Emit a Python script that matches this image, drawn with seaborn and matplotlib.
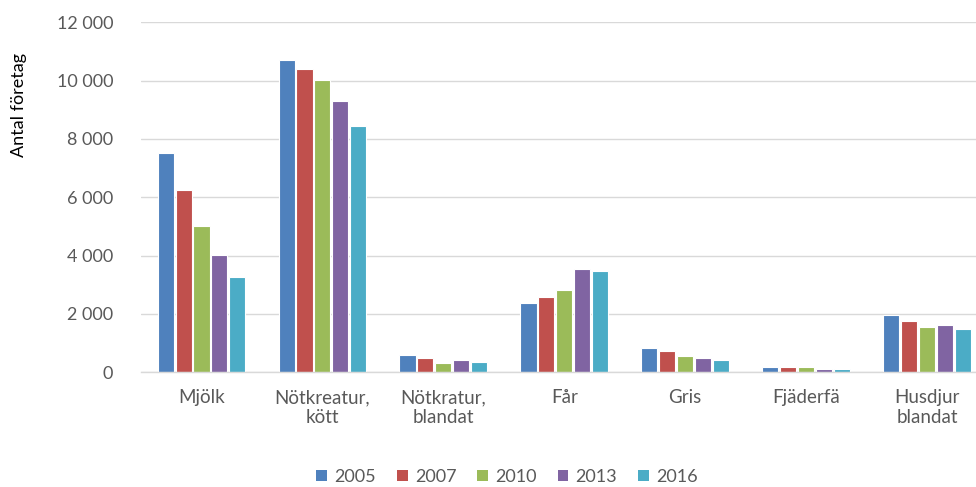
import matplotlib
matplotlib.use("Agg")
import matplotlib.pyplot as plt
import seaborn as sns
import pandas as pd
from matplotlib.ticker import FuncFormatter
from matplotlib.patches import Patch

categories = ["Mjölk", "Nötkreatur,\nkött", "Nötkratur,\nblandat", "Får", "Gris", "Fjäderfä", "Husdjur\nblandat"]
years = ["2005", "2007", "2010", "2013", "2016"]
v2005 = [7520, 10720, 594, 2366, 832, 173, 1965]
v2007 = [6250, 10410, 480, 2594, 728, 173, 1769]
v2010 = [5030, 10020, 320, 2823, 566, 170, 1538]
v2013 = [4020, 9290, 411, 3554, 486, 127, 1618]
v2016 = [3257, 8446, 366, 3486, 405, 127, 1491]
colors = ["#4F81BD", "#C0504D", "#9BBB59", "#8064A2", "#4BACC6"]

series = [v2005, v2007, v2010, v2013, v2016]
rows = []
for y, vals in zip(years, series):
    for c, v in zip(categories, vals):
        rows.append({"Kategori": c, "År": y, "Antal": v})
df = pd.DataFrame(rows)

sns.set_theme(style="white")
plt.rcParams["font.family"] = ["Lato", "DejaVu Sans"]

fig = plt.figure(figsize=(9.76, 4.87), dpi=100)
ax = fig.add_axes([141/976, 1 - 372.3/487, (987.5 - 141)/976, 350/487])

sns.barplot(data=df, x="Kategori", y="Antal", hue="År", order=categories,
            hue_order=years, palette=colors, saturation=1, width=0.74, gap=0.1,
            edgecolor="white", linewidth=0.8, ax=ax, legend=False)

ax.set_ylim(0, 12000)
ax.set_yticks(range(0, 12001, 2000))
ax.yaxis.set_major_formatter(FuncFormatter(lambda v, p: f"{int(v):,}".replace(",", " ")))
ax.grid(axis="y", color="#D9D9D9", linewidth=1.0)
ax.set_axisbelow(True)
for s in ["left", "right", "top"]:
    ax.spines[s].set_visible(False)
ax.spines["bottom"].set_color("#D9D9D9")
ax.spines["bottom"].set_linewidth(1.0)
ax.tick_params(axis="y", length=0, pad=20, labelsize=13, labelcolor="#595959")
ax.tick_params(axis="x", length=0, pad=12, labelsize=13.5, labelcolor="#595959")
for lbl in ax.get_xticklabels():
    lbl.set_linespacing(1.2)
ax.set_xlabel("")
ax.set_ylabel("Antal företag", fontsize=13, color="black")
ax.yaxis.set_label_coords((27 - 141)/846.5, (372.3 - 105)/350)

handles = [Patch(facecolor=c, edgecolor="none") for c in colors]
fig.legend(handles, years, loc="center", bbox_to_anchor=(507/976, 1 - 477/487),
           ncol=5, frameon=False, fontsize=13, handlelength=0.6, handleheight=0.6,
           handletextpad=0.4, columnspacing=1.15, labelcolor="#595959")

fig.savefig("out.png", dpi=100)
